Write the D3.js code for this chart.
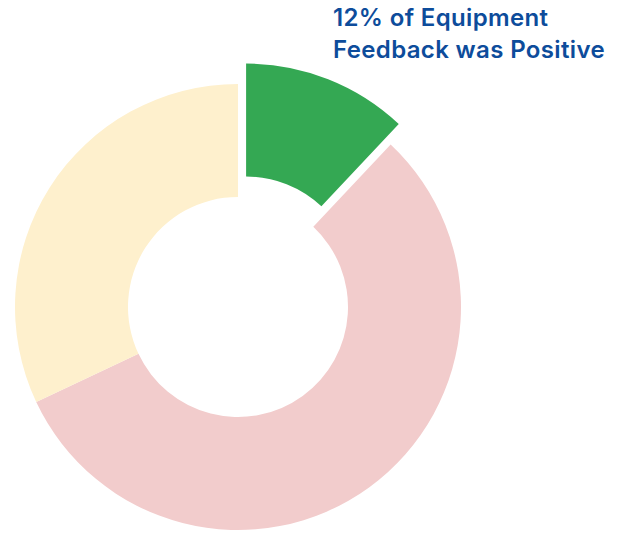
<!DOCTYPE html>
<html>
<head>
<meta charset="utf-8">
<script src="https://cdn.jsdelivr.net/npm/d3@7"></script>
<style>
  html, body { margin: 0; padding: 0; background: #ffffff; }
  svg { display: block; }
</style>
</head>
<body>
<svg id="chart" width="625" height="534"></svg>
<script>
// Feedback share by sentiment (percent)
const categories = ["Positive", "Negative", "Neutral"];
const values = [12, 56, 32];
const colors = ["#34a853", "#f2cccc", "#fef0cd"];
const titleLines = ["12% of Equipment", "Feedback was Positive"];

const svg = d3.select("#chart");
const cx = 238, cy = 307;
const outerR = 223, innerR = 110;
const explode = 22; // pull-out distance for the highlighted slice

const pie = d3.pie().sort(null).value(d => d.value);
const arc = d3.arc().innerRadius(innerR).outerRadius(outerR);

const data = categories.map((c, i) => ({ category: c, value: values[i], color: colors[i] }));
const g = svg.append("g").attr("transform", `translate(${cx},${cy})`);

g.selectAll("path")
  .data(pie(data))
  .join("path")
  .attr("d", arc)
  .attr("fill", d => d.data.color)
  .attr("transform", (d, i) => {
    if (i !== 0) return null;
    const mid = (d.startAngle + d.endAngle) / 2;
    return `translate(${Math.sin(mid) * explode},${-Math.cos(mid) * explode})`;
  });

const title = svg.append("text")
  .attr("x", 333)
  .attr("y", 26)
  .attr("fill", "#0d4c9b")
  .style("font-family", "Inter, 'Open Sans', sans-serif")
  .style("font-size", "24px")
  .style("font-weight", 600);

title.selectAll("tspan")
  .data(titleLines)
  .join("tspan")
  .attr("x", 333)
  .attr("dy", (d, i) => i === 0 ? 0 : 31.5)
  .text(d => d);

// Adjust tracking so the second line spans its full width
const wanted = 272;
const longest = title.selectAll("tspan").nodes()[1];
const w = longest.getComputedTextLength();
const n = titleLines[1].length;
title.style("letter-spacing", ((wanted - w) / n).toFixed(2) + "px");
</script>
</body>
</html>
